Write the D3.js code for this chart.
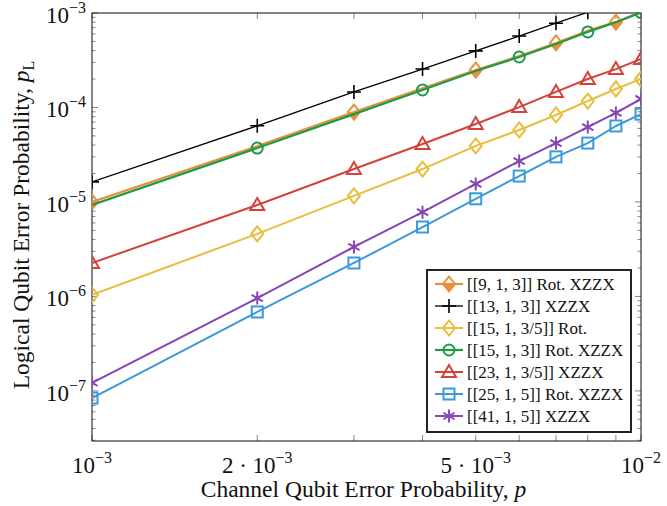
<!DOCTYPE html>
<html>
<head>
<meta charset="utf-8">
<script src="https://cdn.jsdelivr.net/npm/d3@7"></script>
<style>
  body { margin: 0; background: #fff; }
  text { font-family: "Liberation Serif", "DejaVu Serif", serif; fill: #111; }
</style>
</head>
<body>
<script>
// channel error probability p
const pValues = [0.001, 0.002, 0.003, 0.004, 0.005, 0.006, 0.007, 0.008, 0.009, 0.01];

// logical error probability per code
const rot9 = [1.0e-5, 3.9e-5, 8.95e-5, 1.6e-4, 2.49e-4, 3.5e-4, 4.82e-4, 6.5e-4, 8.0e-4, 1.03e-3];
const xzzx13 = [1.63e-5, 6.4e-5, 1.46e-4, 2.55e-4, 3.97e-4, 5.7e-4, 7.8e-4, 1.02e-3];
const rot15 = [1.04e-6, 4.6e-6, 1.16e-5, 2.23e-5, 3.92e-5, 5.78e-5, 8.33e-5, 1.17e-4, 1.57e-4, 2.0e-4];
const rot15xzzx = [9.3e-6, 3.72e-5, 8.5e-5, 1.53e-4, 2.43e-4, 3.42e-4, 4.7e-4, 6.3e-4, 8.0e-4, 1.01e-3];
const xzzx23 = [2.26e-6, 9.3e-6, 2.23e-5, 4.11e-5, 6.68e-5, 1.01e-4, 1.46e-4, 2.0e-4, 2.55e-4, 3.26e-4];
const rot25 = [8.4e-8, 6.85e-7, 2.26e-6, 5.43e-6, 1.08e-5, 1.88e-5, 3.0e-5, 4.2e-5, 6.37e-5, 8.5e-5];
const xzzx41 = [1.22e-7, 9.6e-7, 3.34e-6, 7.8e-6, 1.55e-5, 2.71e-5, 4.2e-5, 6.2e-5, 8.75e-5, 1.23e-4];

const legendLabels = [
  ['[[9, 1, 3]]', ' Rot. XZZX'],
  ['[[13, 1, 3]]', ' XZZX'],
  ['[[15, 1, 3/5]]', ' Rot.'],
  ['[[15, 1, 3]]', ' Rot. XZZX'],
  ['[[23, 1, 3/5]]', ' XZZX'],
  ['[[25, 1, 5]]', ' Rot. XZZX'],
  ['[[41, 1, 5]]', ' XZZX']
];

const xTickVals = [0.001, 0.002, 0.005, 0.01];
const xTickLabels = [['10', '\u22123'], ['2 \u00b7 10', '\u22123'], ['5 \u00b7 10', '\u22123'], ['10', '\u22122']];
const yTickVals = [1e-7, 1e-6, 1e-5, 1e-4, 1e-3];
const yTickLabels = [['10', '\u22127'], ['10', '\u22126'], ['10', '\u22125'], ['10', '\u22124'], ['10', '\u22123']];

const series = [
  { values: rot9, color: '#e8913a', width: 2.2, mark: 'halfdiamond', phase: 0 },
  { values: xzzx13, color: '#000000', width: 1.3, mark: 'plus', phase: null },
  { values: rot15, color: '#e9be3a', width: 2, mark: 'diamond', phase: null },
  { values: rot15xzzx, color: '#1f9a48', width: 2.2, mark: 'circle', phase: 1 },
  { values: xzzx23, color: '#d4423a', width: 2, mark: 'triangle', phase: null },
  { values: rot25, color: '#3a9ad9', width: 2, mark: 'square', phase: null },
  { values: xzzx41, color: '#8646b5', width: 2, mark: 'asterisk', phase: null }
];
series.forEach((s, i) => { s.label = legendLabels[i]; });

const W = 667, H = 506;
const margin = { top: 13, right: 26, bottom: 65, left: 92 };
const width = W - margin.left - margin.right;
const height = H - margin.top - margin.bottom;

const x = d3.scaleLog().domain([1e-3, 1e-2]).range([0, width]);
const y = d3.scaleLog().domain([2.95e-8, 1e-3]).range([height, 0]);

const svg = d3.select('body').append('svg')
  .attr('width', W)
  .attr('height', H);

const g = svg.append('g')
  .attr('transform', `translate(${margin.left}, ${margin.top})`);

g.append('clipPath').attr('id', 'plotclip')
  .append('rect').attr('width', width).attr('height', height);

// ticks (inside, grey)
const tickColor = '#888';
const xMinor = d3.range(1, 11).map(k => k * 1e-3);
xMinor.forEach(v => {
  g.append('line').attr('x1', x(v)).attr('x2', x(v)).attr('y1', height).attr('y2', height - 6)
    .attr('stroke', tickColor).attr('stroke-width', 1);
  g.append('line').attr('x1', x(v)).attr('x2', x(v)).attr('y1', 0).attr('y2', 6)
    .attr('stroke', tickColor).attr('stroke-width', 1);
});

const yAll = [];
for (let e = -8; e <= -4; e++) {
  for (let k = 1; k <= 9; k++) yAll.push({ v: k * Math.pow(10, e), major: k === 1 });
}
yAll.push({ v: 1e-3, major: true });
yAll.filter(d => d.v >= y.domain()[0] && d.v <= 1e-3).forEach(d => {
  const len = d.major ? 6 : 3.5;
  g.append('line').attr('x1', 0).attr('x2', len).attr('y1', y(d.v)).attr('y2', y(d.v))
    .attr('stroke', tickColor).attr('stroke-width', 1);
  g.append('line').attr('x1', width).attr('x2', width - len).attr('y1', y(d.v)).attr('y2', y(d.v))
    .attr('stroke', tickColor).attr('stroke-width', 1);
});

// frame
g.append('rect').attr('width', width).attr('height', height)
  .attr('fill', 'none').attr('stroke', '#222').attr('stroke-width', 1.1);

// tick labels
xTickVals.forEach((v, i) => {
  const t = g.append('text')
    .attr('x', x(v)).attr('y', height + 32)
    .attr('text-anchor', 'middle')
    .style('font-size', '23px');
  t.append('tspan').text(xTickLabels[i][0]);
  t.append('tspan').attr('dy', -10).style('font-size', '16px').text(xTickLabels[i][1]);
});
yTickVals.forEach((v, i) => {
  const t = g.append('text')
    .attr('x', -6).attr('y', y(v) + 10)
    .attr('text-anchor', 'end')
    .style('font-size', '23px');
  t.append('tspan').text(yTickLabels[i][0]);
  t.append('tspan').attr('dy', -10).style('font-size', '16px').text(yTickLabels[i][1]);
});

// axis titles
const xt = svg.append('text')
  .attr('x', margin.left + width / 2 - 3).attr('y', H - 9)
  .attr('text-anchor', 'middle')
  .style('font-size', '23.5px');
xt.append('tspan').text('Channel Qubit Error Probability, ');
xt.append('tspan').style('font-style', 'italic').text('p');

const yt = svg.append('text')
  .attr('transform', `translate(29, ${margin.top + height / 2 - 2}) rotate(-90)`)
  .attr('text-anchor', 'middle')
  .style('font-size', '23.5px');
yt.append('tspan').text('Logical Qubit Error Probability, ');
yt.append('tspan').style('font-style', 'italic').text('p');
yt.append('tspan').attr('dy', 5).style('font-size', '16px').text('L');

// marker drawing
function drawMark(sel, type, color) {
  const sw = 2;
  if (type === 'halfdiamond' || type === 'diamond') {
    if (type === 'halfdiamond') {
      sel.append('path').attr('d', 'M-6,0 L6,0 L0,7.5 Z').attr('fill', color);
    }
    sel.append('path').attr('d', 'M0,-7.5 L6,0 L0,7.5 L-6,0 Z')
      .attr('fill', 'none')
      .attr('stroke', color).attr('stroke-width', sw);
  } else if (type === 'plus') {
    sel.append('path').attr('d', 'M-7,0 L7,0 M0,-7 L0,7')
      .attr('stroke', color).attr('stroke-width', 1.6);
  } else if (type === 'circle') {
    sel.append('circle').attr('r', 5.5).attr('fill', 'none')
      .attr('stroke', color).attr('stroke-width', sw);
  } else if (type === 'triangle') {
    sel.append('path').attr('d', 'M0,-7 L7,5 L-7,5 Z').attr('fill', 'none')
      .attr('stroke', color).attr('stroke-width', sw);
  } else if (type === 'square') {
    sel.append('rect').attr('x', -5.5).attr('y', -5.5).attr('width', 11).attr('height', 11)
      .attr('fill', 'none').attr('stroke', color).attr('stroke-width', sw);
  } else if (type === 'asterisk') {
    const r = 6.5;
    let d = '';
    [90, 30, 150].forEach(a => {
      const dx = r * Math.cos(a * Math.PI / 180), dy = r * Math.sin(a * Math.PI / 180);
      d += `M${-dx},${-dy} L${dx},${dy} `;
    });
    sel.append('path').attr('d', d).attr('stroke', color).attr('stroke-width', sw);
  }
}

const line = d3.line()
  .x(d => x(d.p))
  .y(d => y(d.v));

const plot = g.append('g').attr('clip-path', 'url(#plotclip)');

series.forEach(s => {
  const pts = s.values.map((v, i) => ({ p: pValues[i], v: v, i: i }));
  plot.append('path')
    .datum(pts)
    .attr('fill', 'none')
    .attr('stroke', s.color)
    .attr('stroke-width', s.width)
    .attr('stroke-linejoin', 'round')
    .attr('d', line);
  const markPts = s.phase === null ? pts : pts.filter(d => d.i % 2 === s.phase);
  markPts.forEach(d => {
    const m = plot.append('g').attr('transform', `translate(${x(d.p)}, ${y(d.v)})`);
    drawMark(m, s.mark, s.color);
  });
});

// legend
const lg = svg.append('g').attr('transform', 'translate(427, 270)');
lg.append('rect').attr('width', 204).attr('height', 162)
  .attr('fill', '#fff').attr('stroke', '#222').attr('stroke-width', 2);
series.forEach((s, i) => {
  const yy = 14 + i * 22;
  lg.append('line').attr('x1', 8).attr('x2', 36).attr('y1', yy).attr('y2', yy)
    .attr('stroke', s.color).attr('stroke-width', s.width);
  const m = lg.append('g').attr('transform', `translate(22, ${yy})`);
  drawMark(m, s.mark, s.color);
  lg.append('text').attr('x', 40).attr('y', yy + 5.5)
    .style('font-size', '17px')
    .text(s.label[0] + s.label[1]);
});
</script>
</body>
</html>
